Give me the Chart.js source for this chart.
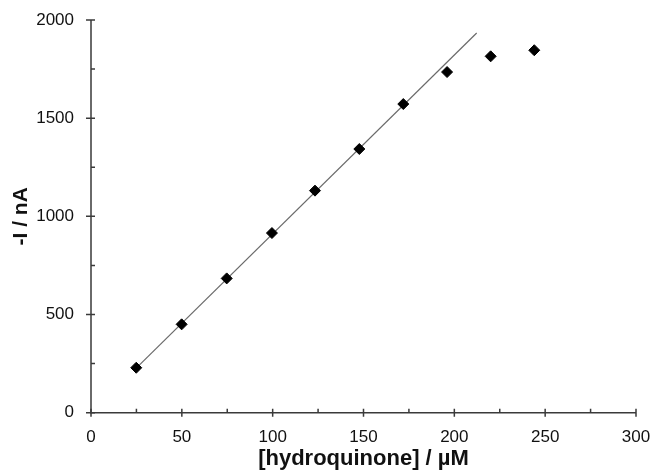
<!DOCTYPE html>
<html>
<head>
<meta charset="utf-8">
<script src="https://cdn.jsdelivr.net/npm/chart.js@4/dist/chart.umd.min.js"></script>
<style>
html,body{margin:0;padding:0;background:#fff;}
#wrap{width:654px;height:470px;}
</style>
</head>
<body>
<div id="wrap"><canvas id="c" width="654" height="470"></canvas></div>
<script>
// Data
const concentration = [24.9, 49.9, 74.7, 99.6, 123.3, 147.7, 171.9, 196, 220, 244];
const current = [229, 450, 684, 915, 1131, 1343, 1572, 1735, 1815, 1846];
// Linear fit line endpoints
const fitX = [24.9, 212.3];
const fitY = [227, 1934];
// Axis ticks
const xMajor = [0, 50, 100, 150, 200, 250, 300];
const xMinor = [25, 75, 125, 175, 225, 275];
const yMajor = [0, 500, 1000, 1500, 2000];
const yMinor = [250, 750, 1250, 1750];

const FONT = "'Liberation Sans', Arial, Helvetica, sans-serif";

const axisPlugin = {
  id: 'axisPlugin',
  afterDraw(chart) {
    const ctx = chart.ctx;
    const xs = chart.scales.x, ys = chart.scales.y;
    const x0 = xs.getPixelForValue(0), x1 = xs.getPixelForValue(300);
    const y0 = ys.getPixelForValue(0), y1 = ys.getPixelForValue(2000);
    ctx.save();
    ctx.strokeStyle = '#3a3a3a';
    ctx.lineWidth = 1.5;
    ctx.beginPath();
    ctx.moveTo(x0, y1); ctx.lineTo(x0, y0); ctx.lineTo(x1, y0);
    ctx.stroke();
    ctx.beginPath();
    xMajor.forEach(v => { const p = xs.getPixelForValue(v); ctx.moveTo(p, y0 - 4); ctx.lineTo(p, y0 + 4); });
    xMinor.forEach(v => { const p = xs.getPixelForValue(v); ctx.moveTo(p, y0 - 4); ctx.lineTo(p, y0); });
    yMajor.forEach(v => { const p = ys.getPixelForValue(v); ctx.moveTo(x0 - 5, p); ctx.lineTo(x0 + 4, p); });
    yMinor.forEach(v => { const p = ys.getPixelForValue(v); ctx.moveTo(x0, p); ctx.lineTo(x0 + 4, p); });
    ctx.stroke();
    ctx.restore();
  }
};

function zeroPad(s) { s.paddingTop = 0; s.paddingBottom = 0; s.paddingLeft = 0; s.paddingRight = 0; }

new Chart(document.getElementById('c'), {
  type: 'scatter',
  data: {
    datasets: [
      {
        label: 'fit',
        data: fitX.map((x, i) => ({x: x, y: fitY[i]})),
        showLine: true,
        borderColor: '#6a6a6a',
        borderWidth: 1.2,
        pointRadius: 0,
        fill: false,
        order: 2
      },
      {
        label: 'data',
        data: concentration.map((x, i) => ({x: x, y: current[i]})),
        pointStyle: 'rectRot',
        pointRadius: 5.5,
        pointBackgroundColor: '#000',
        pointBorderColor: '#000',
        pointBorderWidth: 1,
        showLine: false,
        order: 1
      }
    ]
  },
  options: {
    responsive: false,
    animation: false,
    devicePixelRatio: 1,
    layout: {padding: {top: 20, right: 18, left: 0, bottom: 0}},
    plugins: {legend: {display: false}, tooltip: {enabled: false}},
    scales: {
      x: {
        type: 'linear', min: 0, max: 300,
        afterBuildTicks: s => { s.ticks = xMajor.map(v => ({value: v})); },
        afterFit: s => { s.height = 57.3; zeroPad(s); },
        grid: {display: false, drawTicks: false},
        border: {display: false},
        ticks: {padding: 14, color: '#111', font: {family: FONT, size: 17}, callback: v => String(v)},
        title: {display: true, text: '[hydroquinone] / µM', color: '#111',
                font: {family: FONT, size: 22, weight: 'bold', lineHeight: 1},
                padding: {top: 0, bottom: 0}}
      },
      y: {
        type: 'linear', min: 0, max: 2000,
        afterBuildTicks: s => { s.ticks = yMajor.map(v => ({value: v})); },
        afterFit: s => { s.width = 91; zeroPad(s); },
        grid: {display: false, drawTicks: false},
        border: {display: false},
        ticks: {padding: 17, color: '#111', font: {family: FONT, size: 17}, callback: v => String(v)},
        title: {display: true, text: '-I / nA', color: '#111',
                font: {family: FONT, size: 21, weight: 'bold', lineHeight: 1},
                padding: {top: 11, bottom: 0}}
      }
    }
  },
  plugins: [axisPlugin]
});
</script>
</body>
</html>
